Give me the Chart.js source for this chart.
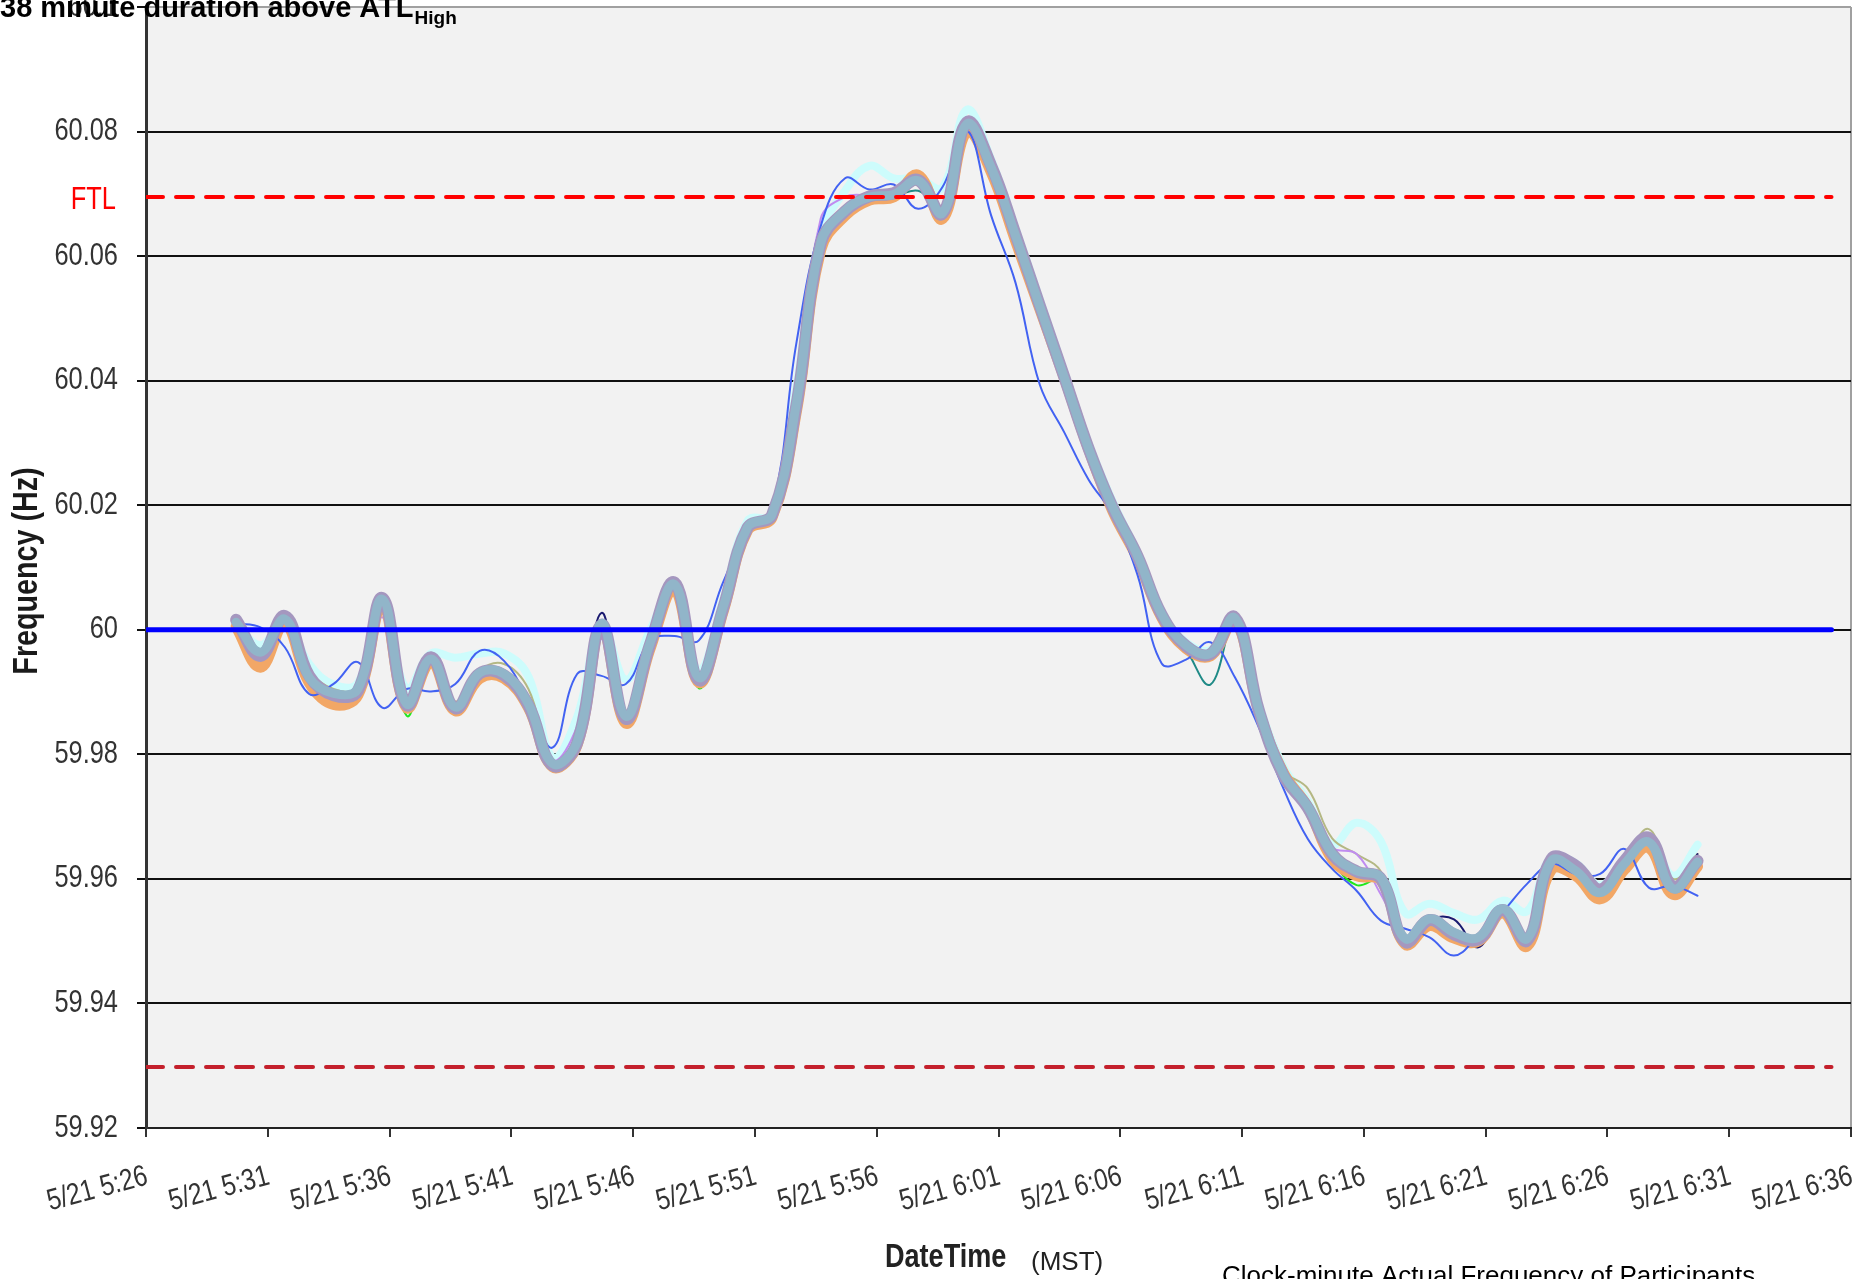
<!DOCTYPE html>
<html lang="en">
<head>
    <meta charset="UTF-8">
    <title>Clock-minute Actual Frequency of Participants</title>
    <script src="https://cdn.jsdelivr.net/npm/chart.js"></script>
    <style>
        body {
            margin: 0;
            padding: 0;
            background: #ffffff;
            overflow: hidden;
        }
        canvas {
            display: block;
        }
    </style>
</head>
<body>

<canvas id="freqChart" width="1873" height="1279"></canvas>

<script>
    // minutes after 5/21 5:26 (one sample per clock minute)
    const times = [3.7, 4.7, 5.7, 6.7, 7.7, 8.7, 9.7, 10.7, 11.7, 12.7,
        13.7, 14.7, 15.7, 16.7, 17.7, 18.7, 19.7, 20.7, 21.7, 22.7,
        23.7, 24.7, 25.7, 26.7, 27.7, 28.7, 29.7, 30.7, 31.7, 32.7,
        33.7, 34.7, 35.7, 36.7, 37.7, 38.7, 39.7, 40.7, 41.7, 42.7,
        43.7, 44.7, 45.7, 46.7, 47.7, 48.7, 49.7, 50.7, 51.7, 52.7,
        53.7, 54.7, 55.7, 56.7, 57.7, 58.7, 59.7, 60.7, 61.7, 62.7,
        63.7];

    const xTickLabels = ['5/21 5:26', '5/21 5:31', '5/21 5:36', '5/21 5:41', '5/21 5:46',
        '5/21 5:51', '5/21 5:56', '5/21 6:01', '5/21 6:06', '5/21 6:11', '5/21 6:16',
        '5/21 6:21', '5/21 6:26', '5/21 6:31', '5/21 6:36'];
    const yTickLabels = ['59.92', '59.94', '59.96', '59.98', '60', '60.02', '60.04', '60.06', '60.08', '60.1'];

    // participant frequencies (Hz)
    const partMain = [60.0012, 59.9964, 60.0017, 59.9923, 59.9898, 59.9905, 60.0049, 59.9881, 59.9953, 59.9876,
        59.9931, 59.9929, 59.9881, 59.9785, 59.9820, 60.0010, 59.9861, 59.9979, 60.0073, 59.9923,
        60.0037, 60.0165, 60.0185, 60.0363, 60.0621, 60.0673, 60.0695, 60.0699, 60.0721, 60.0669,
        60.0812, 60.0742, 60.0633, 60.0519, 60.0405, 60.0291, 60.0196, 60.0120, 60.0025, 59.9975,
        59.9962, 60.0019, 59.9870, 59.9768, 59.9716, 59.9641, 59.9613, 59.9602, 59.9504, 59.9536,
        59.9514, 59.9506, 59.9552, 59.9504, 59.9629, 59.9613, 59.9578, 59.9624, 59.9659, 59.9584,
        59.9627];
    const partMauve = [60.0016, 59.9958, 60.0022, 59.9926, 59.9895, 59.9902, 60.0051, 59.9879, 59.9956, 59.9874,
        59.9930, 59.9927, 59.9879, 59.9782, 59.9818, 60.0008, 59.9857, 59.9977, 60.0076, 59.9919,
        60.0035, 60.0164, 60.0184, 60.0360, 60.0620, 60.0672, 60.0696, 60.0701, 60.0722, 60.0668,
        60.0815, 60.0745, 60.0635, 60.0520, 60.0406, 60.0291, 60.0195, 60.0119, 60.0024, 59.9974,
        59.9961, 60.0020, 59.9869, 59.9766, 59.9714, 59.9640, 59.9612, 59.9600, 59.9499, 59.9534,
        59.9511, 59.9503, 59.9550, 59.9501, 59.9632, 59.9621, 59.9583, 59.9629, 59.9666, 59.9587,
        59.9629];
    const partOrange = [60.0005, 59.9940, 60.0010, 59.9915, 59.9880, 59.9895, 60.0040, 59.9875, 59.9948, 59.9870,
        59.9922, 59.9922, 59.9875, 59.9780, 59.9815, 60.0005, 59.9850, 59.9970, 60.0065, 59.9915,
        60.0030, 60.0160, 60.0180, 60.0350, 60.0610, 60.0665, 60.0690, 60.0695, 60.0730, 60.0660,
        60.0800, 60.0735, 60.0625, 60.0515, 60.0405, 60.0290, 60.0190, 60.0115, 60.0020, 59.9970,
        59.9958, 60.0015, 59.9868, 59.9770, 59.9715, 59.9632, 59.9605, 59.9598, 59.9495, 59.9525,
        59.9505, 59.9500, 59.9545, 59.9492, 59.9615, 59.9605, 59.9568, 59.9615, 59.9650, 59.9575,
        59.9620];
    const partCyan = [60.0012, 59.9975, 60.0015, 59.9945, 59.9912, 59.9915, 60.0045, 59.9905, 59.9962, 59.9955,
        59.9962, 59.9962, 59.9925, 59.9795, 59.9860, 60.0010, 59.9920, 60.0000, 60.0072, 59.9935,
        60.0050, 60.0175, 60.0185, 60.0390, 60.0635, 60.0705, 60.0745, 60.0725, 60.0725, 60.0710,
        60.0835, 60.0755, 60.0645, 60.0530, 60.0415, 60.0300, 60.0205, 60.0125, 60.0030, 59.9980,
        59.9968, 60.0020, 59.9880, 59.9780, 59.9725, 59.9655, 59.9690, 59.9660, 59.9545, 59.9560,
        59.9545, 59.9535, 59.9565, 59.9548, 59.9635, 59.9625, 59.9590, 59.9630, 59.9665, 59.9605,
        59.9655];
    const partGreen = [60.0010, 59.9960, 60.0015, 59.9920, 59.9878, 59.9890, 60.0045, 59.9862, 59.9950, 59.9872,
        59.9918, 59.9918, 59.9878, 59.9775, 59.9815, 60.0005, 59.9847, 59.9975, 60.0070, 59.9906,
        60.0030, 60.0165, 60.0185, 60.0360, 60.0615, 60.0665, 60.0685, 60.0690, 60.0715, 60.0665,
        60.0805, 60.0740, 60.0630, 60.0515, 60.0400, 60.0290, 60.0195, 60.0118, 60.0022, 59.9972,
        59.9958, 60.0018, 59.9868, 59.9765, 59.9712, 59.9630, 59.9590, 59.9598, 59.9505, 59.9535,
        59.9512, 59.9505, 59.9550, 59.9503, 59.9610, 59.9605, 59.9565, 59.9620, 59.9655, 59.9580,
        59.9625];
    const partTeal = [60.0012, 59.9962, 60.0016, 59.9922, 59.9896, 59.9903, 60.0047, 59.9880, 59.9952, 59.9875,
        59.9930, 59.9927, 59.9880, 59.9784, 59.9819, 60.0008, 59.9857, 59.9977, 60.0071, 59.9921,
        60.0035, 60.0163, 60.0183, 60.0360, 60.0618, 60.0670, 60.0692, 60.0696, 60.0705, 60.0680,
        60.0808, 60.0740, 60.0631, 60.0517, 60.0403, 60.0289, 60.0194, 60.0118, 60.0020, 59.9968,
        59.9912, 60.0015, 59.9868, 59.9766, 59.9714, 59.9639, 59.9611, 59.9600, 59.9502, 59.9534,
        59.9512, 59.9504, 59.9550, 59.9502, 59.9626, 59.9610, 59.9575, 59.9621, 59.9656, 59.9582,
        59.9625];
    const partOlive = [60.0013, 59.9968, 60.0016, 59.9935, 59.9905, 59.9908, 60.0046, 59.9885, 59.9955, 59.9885,
        59.9935, 59.9945, 59.9905, 59.9790, 59.9822, 60.0008, 59.9865, 59.9980, 60.0070, 59.9930,
        60.0038, 60.0166, 60.0186, 60.0365, 60.0622, 60.0674, 60.0694, 60.0698, 60.0720, 60.0670,
        60.0810, 60.0745, 60.0640, 60.0525, 60.0410, 60.0296, 60.0203, 60.0126, 60.0030, 59.9980,
        59.9966, 60.0020, 59.9880, 59.9775, 59.9745, 59.9665, 59.9640, 59.9612, 59.9510, 59.9538,
        59.9518, 59.9510, 59.9555, 59.9508, 59.9632, 59.9618, 59.9590, 59.9630, 59.9680, 59.9600,
        59.9640];
    const partLavender = [60.0015, 59.9962, 60.0015, 59.9922, 59.9898, 59.9905, 60.0020, 59.9885, 59.9945, 59.9878,
        59.9935, 59.9925, 59.9880, 59.9790, 59.9845, 59.9985, 59.9865, 59.9975, 60.0062, 59.9925,
        60.0040, 60.0165, 60.0185, 60.0375, 60.0660, 60.0695, 60.0698, 60.0700, 60.0718, 60.0672,
        60.0810, 60.0738, 60.0630, 60.0515, 60.0402, 60.0288, 60.0192, 60.0115, 60.0022, 59.9972,
        59.9962, 60.0016, 59.9868, 59.9762, 59.9710, 59.9650, 59.9640, 59.9575, 59.9510, 59.9525,
        59.9512, 59.9505, 59.9550, 59.9505, 59.9625, 59.9612, 59.9578, 59.9622, 59.9660, 59.9585,
        59.9628];
    const partNavy = [60.0012, 59.9963, 60.0016, 59.9922, 59.9897, 59.9904, 60.0048, 59.9881, 59.9950, 59.9882,
        59.9930, 59.9928, 59.9890, 59.9776, 59.9822, 60.0027, 59.9860, 59.9978, 60.0072, 59.9922,
        60.0036, 60.0164, 60.0184, 60.0362, 60.0620, 60.0672, 60.0694, 60.0698, 60.0720, 60.0668,
        60.0810, 60.0741, 60.0632, 60.0518, 60.0404, 60.0290, 60.0195, 60.0119, 60.0024, 59.9974,
        59.9961, 60.0018, 59.9869, 59.9767, 59.9715, 59.9640, 59.9612, 59.9601, 59.9503, 59.9535,
        59.9535, 59.9490, 59.9551, 59.9503, 59.9628, 59.9612, 59.9577, 59.9623, 59.9658, 59.9583,
        59.9640];
    const partBlue = [60.0010, 60.0004, 59.9972, 59.9897, 59.9913, 59.9948, 59.9875, 59.9905, 59.9901, 59.9913,
        59.9966, 59.9950, 59.9886, 59.9811, 59.9929, 59.9926, 59.9913, 59.9983, 59.9990, 59.9983,
        60.0077, 60.0160, 60.0195, 60.0460, 60.0648, 60.0725, 60.0707, 60.0715, 60.0676, 60.0711,
        60.0802, 60.0665, 60.0557, 60.0393, 60.0317, 60.0241, 60.0184, 60.0089, 59.9946, 59.9952,
        59.9980, 59.9924, 59.9842, 59.9745, 59.9664, 59.9616, 59.9581, 59.9533, 59.9520, 59.9506,
        59.9477, 59.9509, 59.9547, 59.9592, 59.9624, 59.9608, 59.9608, 59.9648, 59.9586, 59.9589,
        59.9573];

    // reference levels (Hz) and how far along the axis they are drawn (minutes)
    const nominalHz = 60;
    const ftlHigh = 60.0695;
    const ftlLow = 59.9298;
    const refSpan = [0, 69.2];

    const SANS = "'Liberation Sans', Arial, sans-serif";
    const NARROW_SCALE = 0.82; // the original uses a narrow face

    function pts(values) {
        return values.map((v, i) => ({ x: times[i], y: v }));
    }
    function flat(level) {
        return refSpan.map(m => ({ x: m, y: level }));
    }
    function series(label, values, color, width, order) {
        return { label: label, data: pts(values), borderColor: color, borderWidth: width, order: order };
    }

    // text squeezed horizontally to look like Arial Narrow
    function narrowText(ctx, text, x, y, angle, font, align, color) {
        ctx.save();
        ctx.translate(x, y);
        if (angle) ctx.rotate(angle);
        ctx.scale(NARROW_SCALE, 1);
        ctx.font = font;
        ctx.fillStyle = color;
        ctx.textAlign = align;
        ctx.textBaseline = 'middle';
        ctx.fillText(text, 0, 0);
        ctx.restore();
    }

    const decor = {
        id: 'decor',
        beforeDraw(chart) {
            const { ctx, chartArea: a } = chart;
            ctx.save();
            ctx.fillStyle = '#f2f2f2';
            ctx.fillRect(a.left, a.top, a.right - a.left, a.bottom - a.top);
            ctx.restore();
        },
        afterDraw(chart) {
            const ctx = chart.ctx;
            const xScale = chart.scales.x;
            const yScale = chart.scales.y;

            // tick labels
            yScale.ticks.forEach((t, i) => {
                narrowText(ctx, yTickLabels[i], 118, yScale.getPixelForTick(i), 0, '31px ' + SANS, 'right', '#333');
            });
            xScale.ticks.forEach((t, i) => {
                narrowText(ctx, xTickLabels[i], xScale.getPixelForTick(i) + 1, 1176, -15 * Math.PI / 180,
                    '30px ' + SANS, 'right', '#333');
            });

            // FTL tag next to the upper dashed line
            narrowText(ctx, 'FTL', 116, yScale.getPixelForValue(ftlHigh) + 4, 0, '31px ' + SANS, 'right', '#ff0000');

            // axis titles
            narrowText(ctx, 'Frequency (Hz)', 27, 571, -Math.PI / 2, 'bold 35px ' + SANS, 'center', '#1a1a1a');
            narrowText(ctx, 'DateTime', 885, 1258, 0, 'bold 33px ' + SANS, 'left', '#222');

            ctx.save();
            ctx.textBaseline = 'alphabetic';
            ctx.textAlign = 'left';
            ctx.fillStyle = '#222';
            ctx.font = '26px ' + SANS;
            ctx.fillText('(MST)', 1031, 1270);

            ctx.fillStyle = '#000';
            ctx.fillText('Clock-minute Actual Frequency of Participants', 1222, 1284);

            // chart title with subscript
            ctx.font = 'bold 29px ' + SANS;
            const main = '38 minute duration above ATL';
            ctx.fillText(main, 0, 17);
            const w = ctx.measureText(main).width;
            ctx.font = 'bold 19px ' + SANS;
            ctx.fillText('High', w + 1, 24);
            ctx.restore();
        }
    };

    const ctx = document.getElementById('freqChart').getContext('2d');
    const freqChart = new Chart(ctx, {
        type: 'line',
        data: {
            datasets: [
                { label: 'Nominal', data: flat(nominalHz), borderColor: '#0000ff', borderWidth: 5, order: 0, tension: 0 },
                { label: 'FTL high', data: flat(ftlHigh), borderColor: '#ff0000', borderWidth: 4, borderDash: [17, 13], order: 0, tension: 0 },
                { label: 'FTL low', data: flat(ftlLow), borderColor: '#c4202c', borderWidth: 4, borderDash: [17, 13], order: 0, tension: 0 },
                series('P1', partMain, '#91b5c9', 9, 1),
                series('P2', partMauve, '#a597bf', 12, 2),
                series('P3', partBlue, '#4262f2', 2, 3),
                series('P4', partOrange, '#f2a766', 11, 4),
                series('P5', partGreen, '#1ee81e', 2, 5),
                series('P6', partNavy, '#1a1a70', 2, 6),
                series('P7', partTeal, '#1f8a86', 2, 7),
                series('P8', partLavender, '#c08cf0', 2, 8),
                series('P9', partOlive, '#b4b884', 2, 9),
                series('P10', partCyan, '#cdfcfc', 8, 10)
            ]
        },
        options: {
            responsive: false,
            animation: false,
            layout: { padding: { top: 7, right: 22, left: 0, bottom: 0 } },
            plugins: {
                legend: { display: false },
                tooltip: { enabled: false }
            },
            elements: {
                point: { radius: 0 },
                line: { tension: 0.4, borderCapStyle: 'round', borderJoinStyle: 'round' }
            },
            scales: {
                x: {
                    type: 'linear',
                    min: 0,
                    max: 70,
                    afterFit: s => {
                        s.height = 151;
                        s.paddingLeft = 0;
                        s.paddingRight = 0;
                    },
                    ticks: { stepSize: 5, autoSkip: false, display: false },
                    grid: {
                        drawOnChartArea: true,
                        color: c => (c.tick && c.tick.value === 70) ? '#a0a0a0' : 'rgba(0,0,0,0)',
                        tickColor: '#333',
                        lineWidth: 2,
                        tickLength: 9
                    },
                    border: { color: '#222', width: 2 }
                },
                y: {
                    min: 59.92,
                    max: 60.1,
                    afterFit: s => {
                        s.width = 146;
                        s.paddingTop = 0;
                        s.paddingBottom = 0;
                    },
                    ticks: { stepSize: 0.02, display: false },
                    grid: {
                        color: c => (c.tick && c.tick.value > 60.09) ? '#a0a0a0' : '#111',
                        tickColor: '#111',
                        lineWidth: 2,
                        tickLength: 9
                    },
                    border: { color: '#333', width: 3 }
                }
            }
        },
        plugins: [decor]
    });
</script>

</body>
</html>
